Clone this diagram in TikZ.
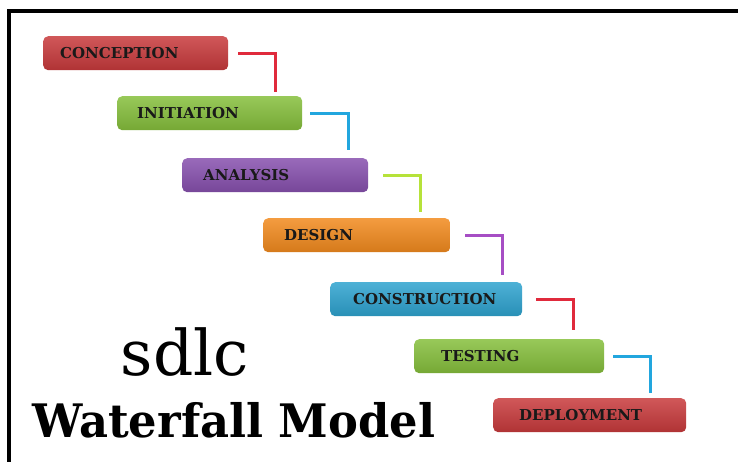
\documentclass[tikz,border=0pt]{standalone}
\usepackage{fontspec}
\setmainfont{DejaVu Serif}

\definecolor{boxred}{HTML}{C83A3C}
\definecolor{boxgreen}{HTML}{86BF3C}
\definecolor{boxpurple}{HTML}{8750AE}
\definecolor{boxorange}{HTML}{F28A1E}
\definecolor{boxblue}{HTML}{2EA3CF}
\definecolor{linered}{HTML}{E02A3C}
\definecolor{lineblue}{HTML}{22A6DE}
\definecolor{linelime}{HTML}{B6E23A}
\definecolor{linepurple}{HTML}{A64EC4}

\tikzset{
    stage/.style={rectangle, rounded corners=5pt, anchor=north west,
        minimum height=34pt, align=left,
        top color=#1!85!white, bottom color=#1!88!black,
        text=black!90, font=\fontsize{15}{17}\selectfont\bfseries},
    link/.style={draw=#1, line width=3pt},
}

\begin{document}
\begin{tikzpicture}[x=1pt, y=-1pt]

    % 画布范围（与原图一致）
    \useasboundingbox[fill=white] (0,0) rectangle (738,462);

    % ---------- 外框（只有上边和左边）----------
    \draw[line width=4pt] (8.5,462) -- (8.5,11) -- (738,11);

    % ---------- 各阶段方框 ----------
    \foreach \nm/\lbl/\x/\y/\w/\pad/\col in {
        conception/CONCEPTION/43/36/185/17/boxred,
        initiation/INITIATION/117/96/185/20/boxgreen,
        analysis/ANALYSIS/182/158/186/21/boxpurple,
        design/DESIGN/263/218/187/21/boxorange,
        construction/CONSTRUCTION/330/282/192/23/boxblue,
        testing/TESTING/414/339/190/27/boxgreen,
        deployment/DEPLOYMENT/493/398/193/26/boxred}{
        \pgfmathsetmacro\tw{\w-2*\pad}
        \node[stage=\col, inner xsep=\pad pt, text width=\tw pt] (\nm) at (\x,\y) {\lbl};
    }

    % ---------- 台阶连线 ----------
    \foreach \a/\b/\col/\sx/\vx/\gy in {
        conception/initiation/linered/10/27/4,
        initiation/analysis/lineblue/8/20/8,
        analysis/design/linelime/15/30/6,
        design/construction/linepurple/15/20/7,
        construction/testing/linered/14/31/9,
        testing/deployment/lineblue/9/36/5}{
        \draw[link=\col] ([xshift=\sx pt]\a.east) -| ([xshift=-\vx pt, yshift=\gy pt]\b.north east);
    }

    % ---------- 标题 ----------
    \node[anchor=base, font=\fontsize{63}{63}\selectfont] (sdlc) at (185,375) {sdlc};
    \node[anchor=base, yscale=1.03, font=\fontsize{44.8}{46}\selectfont\bfseries] (title) at (234,437) {Waterfall Model};

\end{tikzpicture}
\end{document}
